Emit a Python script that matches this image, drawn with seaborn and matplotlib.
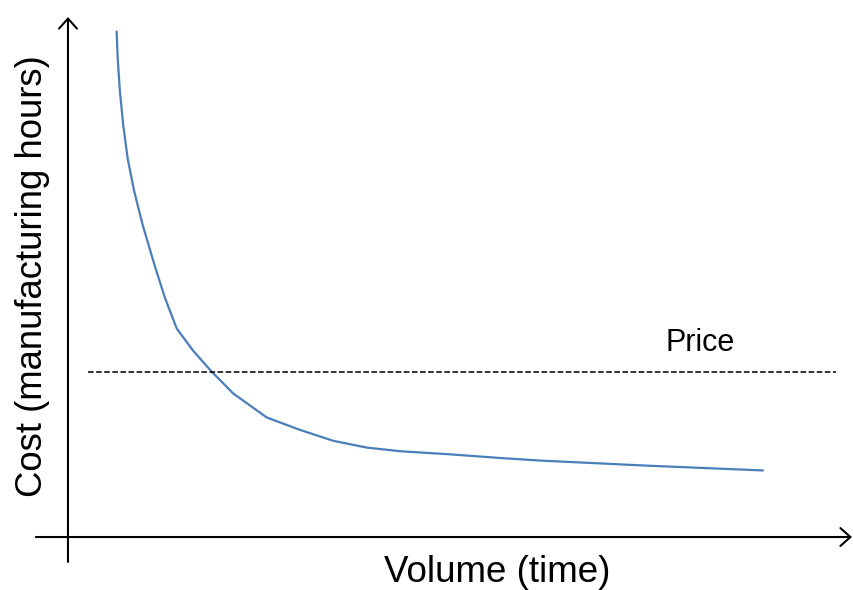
import matplotlib
matplotlib.use("Agg")
import matplotlib.pyplot as plt
import seaborn as sns

# cost curve (volume, cost), arbitrary units 0..100
volume = [6.21, 6.34, 6.63, 7.05, 7.61, 8.46, 9.53, 11.10, 12.37, 13.87, 15.98,
          18.33, 21.08, 25.34, 29.59, 33.84, 38.10, 42.35, 48.72, 55.10, 60.20,
          74.23, 88.65]
cost = [97.2, 92.1, 85.6, 79.2, 72.8, 66.4, 60.0, 52.0, 46.0, 40.1, 35.8,
        31.8, 27.6, 23.0, 20.6, 18.5, 17.2, 16.5, 15.9, 15.2, 14.7,
        13.7, 12.8]

price = 31.7
price_x = [2.5, 98.0]

sns.set_style("white")
plt.rcParams["font.family"] = ["Liberation Sans", "DejaVu Sans"]
plt.rcParams["text.color"] = "black"

fig = plt.figure(figsize=(8.54, 5.90), dpi=100)
ax = fig.add_axes([0, 0, 1, 1])
ax.set_xlim(-8.67, 100.26)
ax.set_ylim(-10.19, 103.27)
ax.axis("off")

# axes drawn as arrows crossing at the origin
arrow = dict(arrowstyle="->,head_length=0.48,head_width=0.43", color="black",
             lw=1.5, mutation_scale=15, shrinkA=0, shrinkB=0)
ax.annotate("", xy=(100, 0), xytext=(-4.1, 0), arrowprops=arrow)
ax.annotate("", xy=(0, 100), xytext=(0, -4.8), arrowprops=arrow)

sns.lineplot(x=volume, y=cost, ax=ax, color="#4a7ebb", lw=1.6, sort=False)
sns.lineplot(x=price_x, y=[price] * 2, ax=ax, color="black", lw=1.1,
             dashes=(4.9, 3.9), linestyle="--")

ax.text(80.6, 37.3, "Price", fontsize=22, ha="center", va="center", color="black")
ax.text(54.7, -6.8, "Volume (time)", fontsize=26.5, ha="center", va="center",
        color="black")
ax.text(-4.5, 50.2, "Cost (manufacturing hours)", fontsize=26.3,
        ha="center", va="center", rotation=90, color="black")

fig.savefig("out.png", dpi=100)
